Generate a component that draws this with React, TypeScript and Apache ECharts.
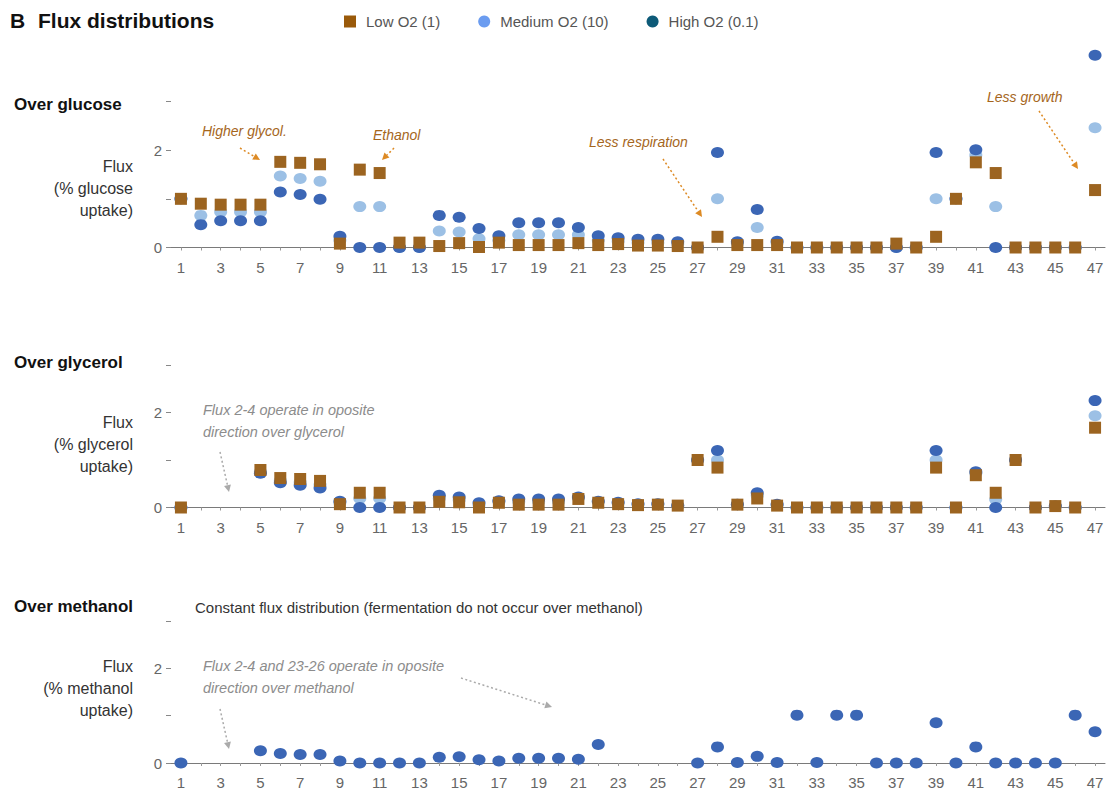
import React, { useEffect, useRef } from "react";
import * as echarts from "echarts";

// Reaction numbers on the x axis
const reactions = [
  "1", "2", "3", "4", "5", "6", "7", "8", "9", "10", "11", "12", "13", "14", "15", "16",
  "17", "18", "19", "20", "21", "22", "23", "24", "25", "26", "27", "28", "29", "30", "31",
  "32", "33", "34", "35", "36", "37", "38", "39", "40", "41", "42", "43", "44", "45", "46", "47",
];

// Flux (% substrate uptake) over glucose
const glucoseLow = [
  1.0, 0.9, 0.88, 0.88, 0.88, 1.76, 1.74, 1.71, 0.08, 1.6, 1.53, 0.1, 0.1, 0.03, 0.09, 0.01,
  0.1, 0.05, 0.05, 0.05, 0.09, 0.05, 0.07, 0.04, 0.04, 0.03, 0, 0.22, 0.05, 0.05, 0.05,
  0, 0, 0, 0, 0, 0.08, 0, 0.22, 1.0, 1.75, 1.53, 0, 0, 0, 0, 1.18,
];
const glucoseMedium = [
  1.0, 0.66, 0.73, 0.73, 0.73, 1.47, 1.42, 1.36, 0.15, 0.84, 0.84, 0, 0, 0.34, 0.32, 0.18,
  0.15, 0.26, 0.26, 0.26, 0.26, 0.15, 0.13, 0.1, 0.1, 0.07, 0, 1.0, 0.08, 0.41, 0.09,
  0, 0, 0, 0, 0, 0, 0, 1.0, 1.0, 1.9, 0.84, 0, 0, 0, 0, 2.46,
];
const glucoseHigh = [
  1.0, 0.47, 0.55, 0.55, 0.55, 1.14, 1.09, 0.99, 0.23, 0, 0, 0, 0, 0.66, 0.62, 0.39,
  0.24, 0.51, 0.51, 0.51, 0.41, 0.24, 0.2, 0.17, 0.17, 0.12, 0, 1.95, 0.12, 0.78, 0.13,
  0, 0, 0, 0, 0, 0, 0, 1.95, 1.0, 2.01, 0, 0, 0, 0, 0, 3.95,
];

// Flux over glycerol (reactions 2-4 run in the opposite direction: not shown)
const glycerolLow = [
  0, null, null, null, 0.79, 0.62, 0.6, 0.56, 0.07, 0.31, 0.31, 0, 0, 0.12, 0.11, 0,
  0.1, 0.06, 0.06, 0.06, 0.18, 0.1, 0.07, 0.05, 0.06, 0.04, 1.0, 0.84, 0.06, 0.19, 0.04,
  0, 0, 0, 0, 0, 0, 0, 0.84, 0, 0.68, 0.31, 1.0, 0, 0.03, 0, 1.68,
];
const glycerolMedium = [
  0, null, null, null, 0.75, 0.57, 0.53, 0.48, 0.1, 0.19, 0.19, 0, 0, 0.19, 0.16, 0.05,
  0.12, 0.12, 0.12, 0.12, 0.2, 0.12, 0.09, 0.06, 0.07, 0.04, 1.0, 1.0, 0.06, 0.25, 0.05,
  0, 0, 0, 0, 0, 0, 0, 1.0, 0, 0.72, 0.17, 1.0, 0, 0.03, 0, 1.93,
];
const glycerolHigh = [
  0, null, null, null, 0.72, 0.52, 0.47, 0.41, 0.13, 0, 0, 0, 0, 0.26, 0.22, 0.1,
  0.14, 0.18, 0.18, 0.18, 0.22, 0.13, 0.11, 0.08, 0.08, 0.04, 1.0, 1.2, 0.07, 0.31, 0.07,
  0, 0, 0, 0, 0, 0, 0, 1.2, 0, 0.75, 0, 1.0, 0, 0.03, 0, 2.25,
];

// Flux over methanol (same at every O2 level; 2-4 and 23-26 reversed: not shown)
const methanolFlux = [
  0, null, null, null, 0.26, 0.2, 0.18, 0.18, 0.04, 0, 0, 0, 0, 0.12, 0.13, 0.07,
  0.04, 0.1, 0.1, 0.1, 0.08, 0.39, null, null, null, null, 0, 0.34, 0.01, 0.14, 0.01,
  1.01, 0.01, 1.01, 1.01, 0, 0, 0, 0.85, 0, 0.34, 0, 0, 0, 0, 1.01, 0.66,
];

const LOW = "Low O2 (1)";
const MEDIUM = "Medium O2 (10)";
const HIGH = "High O2 (0.1)";

const BROWN = "#9c6420";
const LIGHT_BLUE = "#9cc0e5";
const DARK_BLUE = "#3b66b5";
const FONT = "'Liberation Sans', Arial, Helvetica, sans-serif";

// Grid placement for the three panels
const panels = [
  { top: 101.5, height: 146 },
  { top: 365, height: 142.5 },
  { top: 620.8, height: 142.5 },
];
const GRID_LEFT = 171;
const GRID_WIDTH = 934;

const toData = (arr: (number | null)[]) => arr.map((v) => (v === null ? "-" : v));

function scatter(name: string, data: (number | null)[], idx: number, kind: "square" | "light" | "dark", z: number) {
  const style =
    kind === "square"
      ? { symbol: "rect", symbolSize: 12, color: BROWN }
      : { symbol: "circle", symbolSize: [13, 11], color: kind === "light" ? LIGHT_BLUE : DARK_BLUE };
  return {
    type: "scatter",
    name,
    xAxisIndex: idx,
    yAxisIndex: idx,
    data: toData(data),
    symbol: style.symbol,
    symbolSize: style.symbolSize,
    itemStyle: { color: style.color, opacity: 1 },
    z,
    clip: false,
    silent: true,
  };
}

// Dotted arrow made of a dashed line and a small triangular head
function arrow(x1: number, y1: number, x2: number, y2: number, color: string) {
  const dx = x2 - x1;
  const dy = y2 - y1;
  const len = Math.sqrt(dx * dx + dy * dy);
  const ux = dx / len;
  const uy = dy / len;
  const headLen = 7;
  const headW = 3.5;
  const bx = x2 - ux * headLen;
  const by = y2 - uy * headLen;
  return [
    {
      type: "line",
      shape: { x1, y1, x2: bx, y2: by },
      style: { stroke: color, lineWidth: 1.5, lineDash: [2, 2.5] },
      silent: true,
    },
    {
      type: "polygon",
      shape: {
        points: [
          [x2, y2],
          [bx - uy * headW, by + ux * headW],
          [bx + uy * headW, by - ux * headW],
        ],
      },
      style: { fill: color },
      silent: true,
    },
  ];
}

function text(
  t: string,
  x: number,
  y: number,
  opts: { size?: number; weight?: string; style?: string; color?: string; align?: string; lineHeight?: number } = {}
) {
  return {
    type: "text",
    x,
    y,
    silent: true,
    style: {
      text: t,
      fontFamily: FONT,
      fontSize: opts.size ?? 15,
      fontWeight: opts.weight ?? "normal",
      fontStyle: opts.style ?? "normal",
      fill: opts.color ?? "#333",
      textAlign: opts.align ?? "left",
      textVerticalAlign: "middle",
      lineHeight: opts.lineHeight ?? 22,
    },
  };
}

export default function App() {
  const ref = useRef<HTMLDivElement>(null);

  useEffect(() => {
    if (!ref.current) return;
    const chart = echarts.init(ref.current, null, { renderer: "svg" });

    const xAxes = panels.map((_, i) => ({
      type: "category",
      gridIndex: i,
      data: reactions,
      boundaryGap: true,
      axisLine: { show: true, lineStyle: { color: "#7a7a7a", width: 1 } },
      axisTick: { show: true, alignWithLabel: true, interval: 0, length: 3, lineStyle: { color: "#999" } },
      axisLabel: { interval: 1, color: "#666", fontSize: 15, fontFamily: FONT, margin: 12 },
      splitLine: { show: false },
    }));

    const yAxes = panels.map((_, i) => ({
      type: "value",
      gridIndex: i,
      min: 0,
      max: 3,
      interval: 1,
      axisLine: { show: false },
      axisTick: { show: true, length: 5, lineStyle: { color: "#888" } },
      splitLine: { show: false },
      axisLabel: {
        color: "#666",
        fontSize: 15,
        fontFamily: FONT,
        margin: 9,
        formatter: (v: number) => (v === 0 || v === 2 ? String(v) : ""),
      },
    }));

    const series = [
      scatter(MEDIUM, glucoseMedium, 0, "light", 2),
      scatter(HIGH, glucoseHigh, 0, "dark", 3),
      scatter(LOW, glucoseLow, 0, "square", 4),
      scatter(MEDIUM, glycerolMedium, 1, "light", 2),
      scatter(HIGH, glycerolHigh, 1, "dark", 3),
      scatter(LOW, glycerolLow, 1, "square", 4),
      scatter(HIGH, methanolFlux, 2, "dark", 3),
    ];

    const ORANGE_TEXT = "#a5661c";
    const ORANGE_ARROW = "#dd8a24";
    const GRAY_TEXT = "#8c8c8c";
    const GRAY_ARROW = "#aaaaaa";

    const graphics: any[] = [
      // Figure heading
      text("B", 10, 20, { size: 21, weight: "bold", color: "#111" }),
      text("Flux distributions", 38, 20, { size: 21, weight: "bold", color: "#111" }),

      // Panel headings
      text("Over glucose", 14, 104, { size: 17, weight: "bold", color: "#111" }),
      text("Over glycerol", 14, 362, { size: 17, weight: "bold", color: "#111" }),
      text("Over methanol", 14, 606, { size: 17, weight: "bold", color: "#111" }),
      text("Constant flux distribution (fermentation do not occur over methanol)", 195, 607, {
        size: 15,
        color: "#333",
      }),

      // Y axis titles
      text("Flux\n(% glucose\nuptake)", 133, 188, { size: 16, color: "#333", align: "right" }),
      text("Flux\n(% glycerol\nuptake)", 133, 444, { size: 16, color: "#333", align: "right" }),
      text("Flux\n(% methanol\nuptake)", 133, 688, { size: 16, color: "#333", align: "right" }),

      // Glucose annotations
      text("Higher glycol.", 202, 131, { size: 14, style: "italic", color: ORANGE_TEXT }),
      ...arrow(240, 148, 260, 160, ORANGE_ARROW),
      text("Ethanol", 373, 135, { size: 14, style: "italic", color: ORANGE_TEXT }),
      ...arrow(394, 148, 382, 160, ORANGE_ARROW),
      text("Less respiration", 589, 142, { size: 14, style: "italic", color: ORANGE_TEXT }),
      ...arrow(663, 159, 702, 217, ORANGE_ARROW),
      text("Less growth", 987, 97, { size: 14, style: "italic", color: ORANGE_TEXT }),
      ...arrow(1039, 111, 1078, 169, ORANGE_ARROW),

      // Glycerol annotation
      text("Flux 2-4 operate in oposite\ndirection over glycerol", 203, 421, {
        size: 14.5,
        style: "italic",
        color: GRAY_TEXT,
      }),
      ...arrow(220, 452, 229, 492, GRAY_ARROW),

      // Methanol annotations
      text("Flux 2-4 and 23-26 operate in oposite\ndirection over methanol", 203, 677, {
        size: 14.5,
        style: "italic",
        color: GRAY_TEXT,
      }),
      ...arrow(220, 709, 229, 749, GRAY_ARROW),
      ...arrow(461, 678, 552, 707, GRAY_ARROW),
    ];

    chart.setOption({
      animation: false,
      backgroundColor: "#ffffff",
      textStyle: { fontFamily: FONT },
      legend: {
        left: 339,
        top: 9,
        itemWidth: 12,
        itemHeight: 12,
        itemGap: 38,
        selectedMode: false,
        textStyle: { color: "#555", fontSize: 15, fontFamily: FONT, padding: [0, 0, 0, 5] },
        data: [
          { name: LOW, icon: "rect", itemStyle: { color: "#9a5a0a" } },
          { name: MEDIUM, icon: "circle", itemStyle: { color: "#6b9cf0" } },
          { name: HIGH, icon: "circle", itemStyle: { color: "#0d5a78" } },
        ],
      },
      grid: panels.map((p) => ({
        left: GRID_LEFT,
        top: p.top,
        width: GRID_WIDTH,
        height: p.height,
        containLabel: false,
      })),
      xAxis: xAxes,
      yAxis: yAxes,
      series,
      graphic: graphics,
    });

    return () => chart.dispose();
  }, []);

  return (
    <div
      ref={ref}
      style={{ position: "absolute", left: 0, top: 0, width: 1108, height: 790, background: "#fff" }}
    />
  );
}
